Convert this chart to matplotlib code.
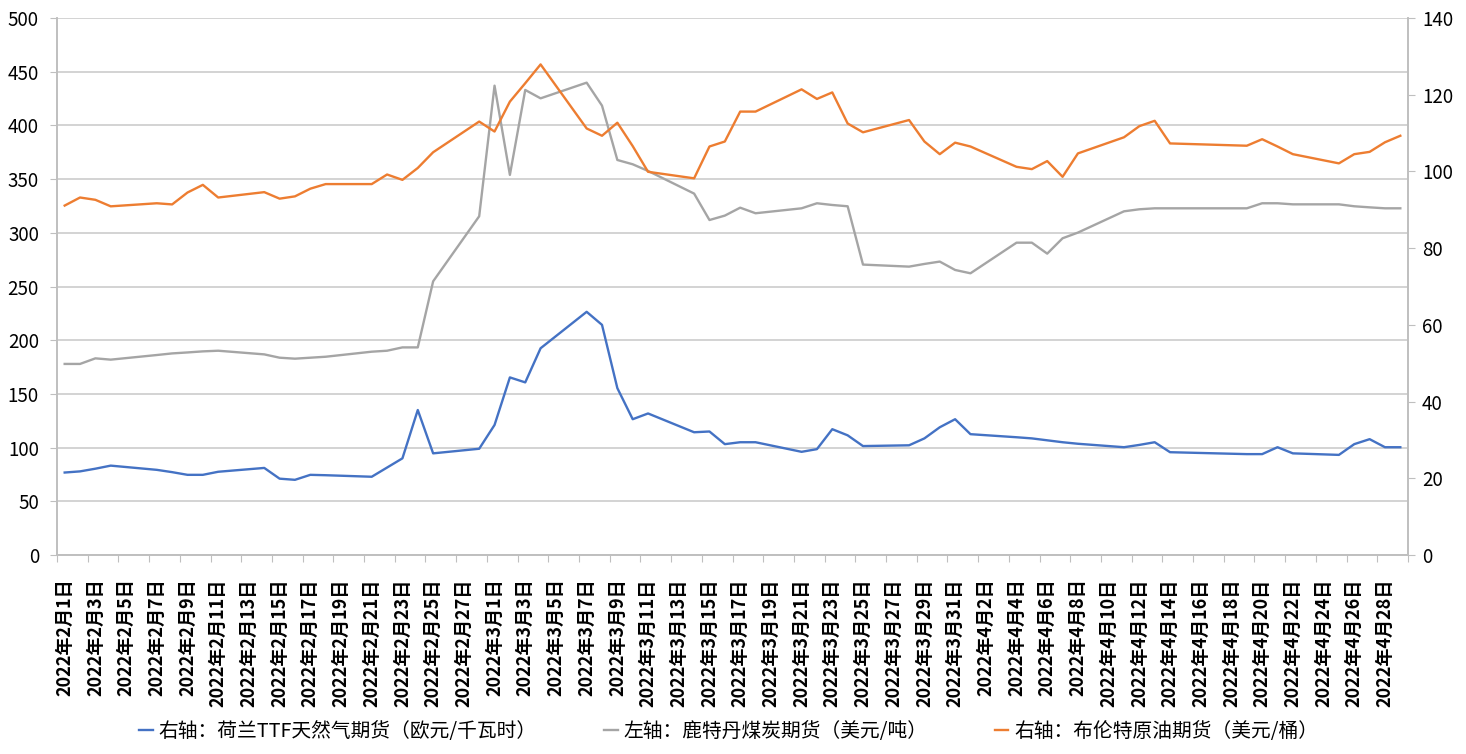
import pandas as pd
import matplotlib.pyplot as plt

plt.rcParams['font.family'] = ['Noto Sans CJK SC', 'DejaVu Sans']

# trading days, Good Friday and Easter Monday are missing
dates = pd.bdate_range('2022-02-01', '2022-04-29', freq='C',
                       holidays=['2022-04-15', '2022-04-18'])

# 右轴：荷兰TTF天然气期货
ttf = [21.5, 21.8, 22.5, 23.3, 22.2, 21.6, 20.9, 20.9, 21.7, 22.7,
       19.9, 19.6, 20.9, 20.8, 20.4, 22.8, 25.2, 37.8, 26.5, 27.7,
       33.9, 46.3, 45.0, 53.9, 63.4, 60.0, 43.5, 35.4, 36.9, 32.0,
       32.2, 28.9, 29.4, 29.4, 26.9, 27.6, 32.8, 31.2, 28.4, 28.6,
       30.4, 33.3, 35.4,
       31.5, 30.7, 30.4, 29.9, 29.4, 29.0, 28.1, 28.7, 29.4, 26.8,
       26.3, 26.3, 28.1, 26.5, 26.1, 28.9, 30.2, 28.1, 28.1]

# 左轴：鹿特丹煤炭期货
coal = [177.9, 177.9, 183.1, 181.9, 186.2, 187.7, 188.6, 189.6, 190.2, 186.8,
        183.7, 182.8, 183.7, 184.6, 189.3, 190.2, 193.3, 193.3, 254.8, 315.4,
        437.0, 353.9, 433.0, 425.2, 439.8, 418.4, 367.8, 363.8, 357.6, 336.5,
        311.9, 316.0, 323.4, 318.2, 322.8, 327.5, 325.9, 324.7, 270.4, 268.5,
        271.0, 273.2, 265.4,
        262.3, 290.8, 290.8, 280.6, 294.9, 300.2, 320.0, 321.9, 322.8, 322.8,
        322.8, 327.5, 327.5, 326.5, 326.5, 324.7, 323.7, 322.8, 322.8]

# 右轴：布伦特原油期货
brent = [91.1, 93.2, 92.6, 90.9, 91.7, 91.4, 94.5, 96.5, 93.2, 94.6,
         92.9, 93.5, 95.5, 96.7, 96.7, 99.2, 97.8, 100.9, 105.0, 113.0,
         110.4, 118.2, 123.0, 127.9, 111.2, 109.3, 112.7, 106.6, 99.9, 98.2,
         106.5, 107.8, 115.6, 115.6, 121.4, 118.9, 120.6, 112.5, 110.2, 113.4,
         107.8, 104.5, 107.5,
         106.5, 101.2, 100.6, 102.7, 98.6, 104.7, 108.9, 111.8, 113.2, 107.3,
         106.7, 108.4, 106.5, 104.5, 102.1, 104.5, 105.1, 107.6, 109.3]

labels = ['右轴：荷兰TTF天然气期货（欧元/千瓦时）',
          '左轴：鹿特丹煤炭期货（美元/吨）',
          '右轴：布伦特原油期货（美元/桶）']

start = pd.Timestamp('2022-02-01')
end = pd.Timestamp('2022-04-29')
x = (dates - start).days
ndays = (end - start).days + 1
tick_days = pd.date_range(start, end, freq='2D')

fig = plt.figure(figsize=(14.66, 7.54), dpi=100)
ax = fig.add_axes([57 / 1466, 1 - 555 / 754, 1351 / 1466, 537 / 754])
ax2 = ax.twinx()

axis_col = '#BFBFBF'
l2, = ax.plot(x, coal, color='#A5A5A5', lw=1.7)
l1, = ax2.plot(x, ttf, color='#4472C4', lw=1.7)
l3, = ax2.plot(x, brent, color='#ED7D31', lw=1.7)

ax.set_xlim(-0.5, ndays - 0.5)
ax.set_ylim(0, 500)
ax.set_yticks(range(0, 501, 50))
ax2.set_ylim(0, 140)
ax2.set_yticks(range(0, 141, 20))
ax.grid(axis='y', color='#C8C8C8', lw=1.1)
ax.set_axisbelow(True)

ax.set_xticks([i - 0.5 for i in range(0, ndays + 1, 2)])
ax.set_xticklabels([])
ax.set_xticks((tick_days - start).days, minor=True)
ax.set_xticklabels([f'{d.year}年{d.month}月{d.day}日' for d in tick_days],
                   minor=True, rotation=90, fontsize=13, fontweight='bold')
ax.tick_params(axis='x', which='major', length=5, color=axis_col)
ax.tick_params(axis='x', which='minor', length=0, pad=17)
ax.tick_params(axis='y', length=5, color=axis_col, labelsize=13.5, pad=8)
ax2.tick_params(axis='y', length=5, color=axis_col, labelsize=13.5, pad=5)

for a in (ax, ax2):
    a.spines['top'].set_visible(False)
    for s in ('left', 'right', 'bottom'):
        a.spines[s].set_color(axis_col)
        a.spines[s].set_linewidth(1.2)

fig.legend([l1, l2, l3], labels, loc='center', bbox_to_anchor=(0.497, 0.030),
           ncol=3, frameon=False, fontsize=14.2, handlelength=0.7,
           handletextpad=0.3, columnspacing=3.4)

fig.savefig('out.png', dpi=100)
